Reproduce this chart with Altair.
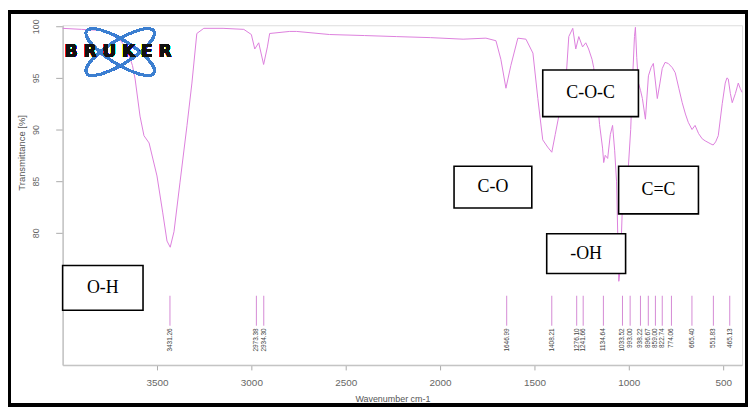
import altair as alt
import pandas as pd

# ---- spectrum ----
wavenumber = [4000, 3900, 3800, 3750, 3700, 3660, 3630, 3616, 3590, 3569, 3542, 3500, 3470,
              3447, 3430, 3410, 3378, 3341, 3315, 3289, 3252, 3150, 3040, 3000, 2982, 2961,
              2935, 2915, 2903, 2797, 2760, 2586, 2400, 2232, 2050, 1878, 1757, 1704, 1678,
              1651, 1625, 1588, 1545, 1508, 1482, 1456, 1430, 1408, 1390, 1371, 1350, 1334,
              1318, 1297, 1281, 1265, 1245, 1228, 1213, 1195, 1186, 1170, 1155, 1139, 1133,
              1125, 1112, 1098, 1086, 1075, 1065, 1053, 1045, 1035, 1020, 1002, 990, 981,
              970, 965, 958, 949, 938, 928, 912, 896, 882, 870, 849, 835, 823, 808, 791,
              770, 754, 735, 717, 700, 685, 665, 649, 630, 611, 595, 580, 565, 553, 540,
              526, 505, 489, 480, 473, 462, 452, 435, 420, 410, 400]
transmittance = [99.8, 99.7, 99.6, 99.3, 98.8, 97.8, 96.2, 94.9, 91.3, 89.4, 88.7, 85.5, 82.0,
                 79.2, 78.6, 80.1, 84.9, 90.4, 94.5, 99.3, 99.8, 99.8, 99.7, 99.2, 97.8, 98.4,
                 96.3, 98.0, 99.3, 99.5, 99.5, 99.2, 99.1, 99.0, 98.9, 98.75, 98.85, 98.6, 96.8,
                 94.0, 96.2, 98.85, 98.75, 97.4, 93.0, 89.0, 88.3, 87.8, 89.5, 91.3, 92.8, 94.5,
                 99.0, 99.8, 97.8, 99.0, 98.0, 98.4, 97.8, 96.8, 96.0, 93.5, 90.5, 88.2, 86.8,
                 87.5, 87.2, 89.5, 90.4, 88.0, 85.0, 75.3, 76.5, 82.0, 86.0, 86.5, 90.0, 94.5,
                 99.0, 99.9, 97.0, 94.5, 93.8, 93.0, 91.0, 95.2, 96.0, 96.4, 93.0, 94.5, 95.9,
                 96.5, 96.4, 96.0, 95.5, 94.0, 92.6, 91.5, 90.7, 90.0, 90.4, 89.6, 89.1, 88.9,
                 88.75, 88.6, 88.5, 88.8, 89.4, 92.5, 94.5, 95.0, 94.9, 93.5, 92.6, 93.5, 94.5,
                 94.0, 93.6]

# ---- peak picks ----
peak_positions = [3431.26, 2973.38, 2934.30, 1646.99, 1408.21, 1276.10, 1241.66, 1134.64,
                  1033.52, 993.00, 938.22, 896.67, 859.00, 822.74, 774.06, 665.40, 551.83,
                  465.13]
peak_labels = [f"{p:.2f}" for p in peak_positions]

# ---- annotation boxes ----
box_labels = ["O-H", "C-O", "C-O-C", "C=C", "-OH"]
box_x1 = [4000, 1926, 1456, 1054, 1435]
box_x2 = [3574, 1514, 949, 631, 1017]
box_y1 = [76.83, 86.44, 95.77, 86.44, 79.9]
box_y2 = [72.5, 82.4, 91.25, 81.83, 76.06]

# ---- axis ticks ----
x_ticks = [500, 1000, 1500, 2000, 2500, 3000, 3500]
y_ticks = [80, 85, 90, 95, 100]

spec_df = pd.DataFrame({"wn": wavenumber, "t": transmittance})
peak_df = pd.DataFrame({"wn": peak_positions, "label": peak_labels})
box_df = pd.DataFrame({"label": box_labels, "x1": box_x1, "x2": box_x2,
                       "y1": box_y1, "y2": box_y2})
box_df["xc"] = (box_df["x1"] + box_df["x2"]) / 2
box_df["yc"] = (box_df["y1"] + box_df["y2"]) / 2

FONT = "Liberation Sans"

xscale = alt.Scale(domain=[400, 4000], reverse=True, nice=False, zero=False)
yscale = alt.Scale(domain=[67.2, 100.1], nice=False, zero=False)

xaxis = alt.Axis(values=x_ticks, format="d", title="Wavenumber cm-1", grid=False, tickSize=5,
                 labelPadding=8, labelFontSize=10, labelColor="#666", labelFont=FONT,
                 domainColor="#c4c4c4", domainWidth=1.5, tickColor="#aaa",
                 titleFont=FONT, titleFontSize=9, titleColor="#555",
                 titleFontWeight="normal", titleY=34, titleX=332,
                 titleBaseline="middle")
yaxis = alt.Axis(values=y_ticks, format="d", title="Transmittance [%]", grid=False, tickSize=7,
                 labelAngle=270, labelAlign="center", labelBaseline="bottom",
                 labelPadding=15, labelFontSize=9, labelColor="#666", labelFont=FONT,
                 domainColor="#c4c4c4", domainWidth=1.5, tickColor="#aaa",
                 titleFont=FONT, titleFontSize=9.5, titleColor="#555",
                 titleFontWeight="normal", titleAngle=270, titleX=-41, titleY=128,
                 titleAlign="center", titleBaseline="middle")

line = alt.Chart(spec_df).mark_line(color="#dd80dd", strokeWidth=1).encode(
    x=alt.X("wn:Q", scale=xscale, axis=xaxis),
    y=alt.Y("t:Q", scale=yscale, axis=yaxis),
)

rules = alt.Chart(peak_df).mark_rule(color="#d58ad5", strokeWidth=1).encode(
    x="wn:Q", y=alt.datum(71.0), y2=alt.datum(73.9)
)

peak_text = alt.Chart(peak_df).mark_text(
    angle=270, align="right", baseline="middle", fontSize=6.5, color="#444", font=FONT
).encode(x="wn:Q", y=alt.datum(70.75), text="label:N")

boxes = alt.Chart(box_df).mark_rect(fill="white", stroke="black", strokeWidth=1.6).encode(
    x="x1:Q", x2="x2:Q", y="y1:Q", y2="y2:Q"
)
box_text = alt.Chart(box_df).mark_text(
    font="Liberation Serif", fontSize=18, color="black", baseline="middle", align="center"
).encode(x="xc:Q", y="yc:Q", text="label:N")

ellipse = "M -1 0 A 1 0.3 0 1 1 1 0 A 1 0.3 0 1 1 -1 0 Z"
orbit1 = alt.Chart(spec_df).mark_point(
    shape=ellipse, size=6400, filled=False, stroke="#3c7fd0", strokeWidth=2.2, angle=32,
    opacity=1
).encode(x=alt.datum(3695), y=alt.datum(97.5))
orbit2 = alt.Chart(spec_df).mark_point(
    shape=ellipse, size=6400, filled=False, stroke="#3c7fd0", strokeWidth=2.2, angle=148,
    opacity=1
).encode(x=alt.datum(3695), y=alt.datum(97.5))
logo_text = alt.Chart(spec_df).mark_text(
    text="B R U K E R", font="DejaVu Sans", fontWeight="bold",
    fontSize=17, color="#111", align="center", baseline="middle"
).encode(x=alt.datum(3706), y=alt.datum(97.5))

frame = alt.Chart(spec_df).mark_rect(fill=None, stroke="black", strokeWidth=3).encode(
    x=alt.value(-53.5), x2=alt.value(688.5), y=alt.value(-13), y2=alt.value(382.5)
)

chart = alt.layer(
    line, rules, peak_text, boxes, box_text, orbit1, orbit2, logo_text, frame
).properties(
    width=684, height=342,
    autosize=alt.AutoSizeParams(type="none"),
    padding={"left": 55, "top": 16, "right": 6, "bottom": 42},
).configure_view(stroke="#c4c4c4", strokeWidth=1.5).configure(background="white")

chart.save("out.html", embed_options={"renderer": "svg", "actions": False})
